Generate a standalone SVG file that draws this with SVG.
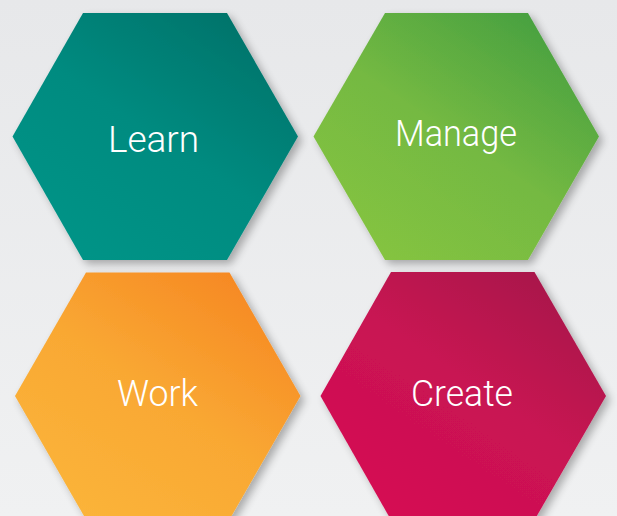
<svg xmlns="http://www.w3.org/2000/svg" width="617" height="516" viewBox="0 0 617 516">
  <defs>
    <linearGradient id="bg" x1="0" y1="0" x2="0" y2="1">
      <stop offset="0" stop-color="#e7e8ea"/>
      <stop offset="1" stop-color="#f0f1f2"/>
    </linearGradient>
    <linearGradient id="gLearn" x1="0.15" y1="0.95" x2="0.85" y2="0.05">
      <stop offset="0" stop-color="#009487"/>
      <stop offset="0.5" stop-color="#008b80"/>
      <stop offset="1" stop-color="#00736a"/>
    </linearGradient>
    <linearGradient id="gManage" x1="0.15" y1="0.95" x2="0.85" y2="0.05">
      <stop offset="0" stop-color="#85c441"/>
      <stop offset="0.5" stop-color="#74b942"/>
      <stop offset="1" stop-color="#47a041"/>
    </linearGradient>
    <linearGradient id="gWork" x1="0.15" y1="0.95" x2="0.85" y2="0.05">
      <stop offset="0" stop-color="#fbb43a"/>
      <stop offset="0.5" stop-color="#f9a833"/>
      <stop offset="1" stop-color="#f68823"/>
    </linearGradient>
    <linearGradient id="gCreate" x1="0.15" y1="0.95" x2="0.85" y2="0.05">
      <stop offset="0" stop-color="#d60e53"/>
      <stop offset="0.55" stop-color="#c81352"/>
      <stop offset="1" stop-color="#a8184b"/>
    </linearGradient>
    <filter id="shadow" x="-10%" y="-10%" width="125%" height="125%">
      <feGaussianBlur in="SourceAlpha" stdDeviation="4"/>
      <feOffset dx="4" dy="4" result="b"/>
      <feComponentTransfer><feFuncA type="linear" slope="0.3"/></feComponentTransfer>
      <feMerge><feMergeNode/><feMergeNode in="SourceGraphic"/></feMerge>
    </filter>
  </defs>
  <style>
    .hex { filter: url(#shadow); }
    .label { font-family: Roboto, "Liberation Sans", sans-serif; font-weight: 300; font-size: 37px; fill: #ffffff; text-anchor: middle; }
  </style>
  <rect width="617" height="516" fill="url(#bg)"/>

  <g id="learn">
    <polygon class="hex" points="83,13 227,13 298,136.5 227,260 83,260 12.5,136.5" fill="url(#gLearn)"/>
    <text class="label" x="153.5" y="152" textLength="91" lengthAdjust="spacing">Learn</text>
  </g>

  <g id="manage">
    <polygon class="hex" points="385,13 528,13 599,136.5 528,260 385,260 313.5,136.5" fill="url(#gManage)"/>
    <text class="label" x="456" y="146" textLength="122" lengthAdjust="spacingAndGlyphs">Manage</text>
  </g>

  <g id="work">
    <polygon class="hex" points="86,272.5 229.5,272.5 300.5,396 229.5,519.5 86,519.5 15,396" fill="url(#gWork)"/>
    <text class="label" x="157.5" y="406" textLength="81" lengthAdjust="spacingAndGlyphs">Work</text>
  </g>

  <g id="create">
    <polygon class="hex" points="391,272 534.5,272 606,396 534.5,520 391,520 320.5,396" fill="url(#gCreate)"/>
    <text class="label" x="462" y="406" textLength="102" lengthAdjust="spacingAndGlyphs">Create</text>
  </g>

  <g id="connectors"/>
</svg>
